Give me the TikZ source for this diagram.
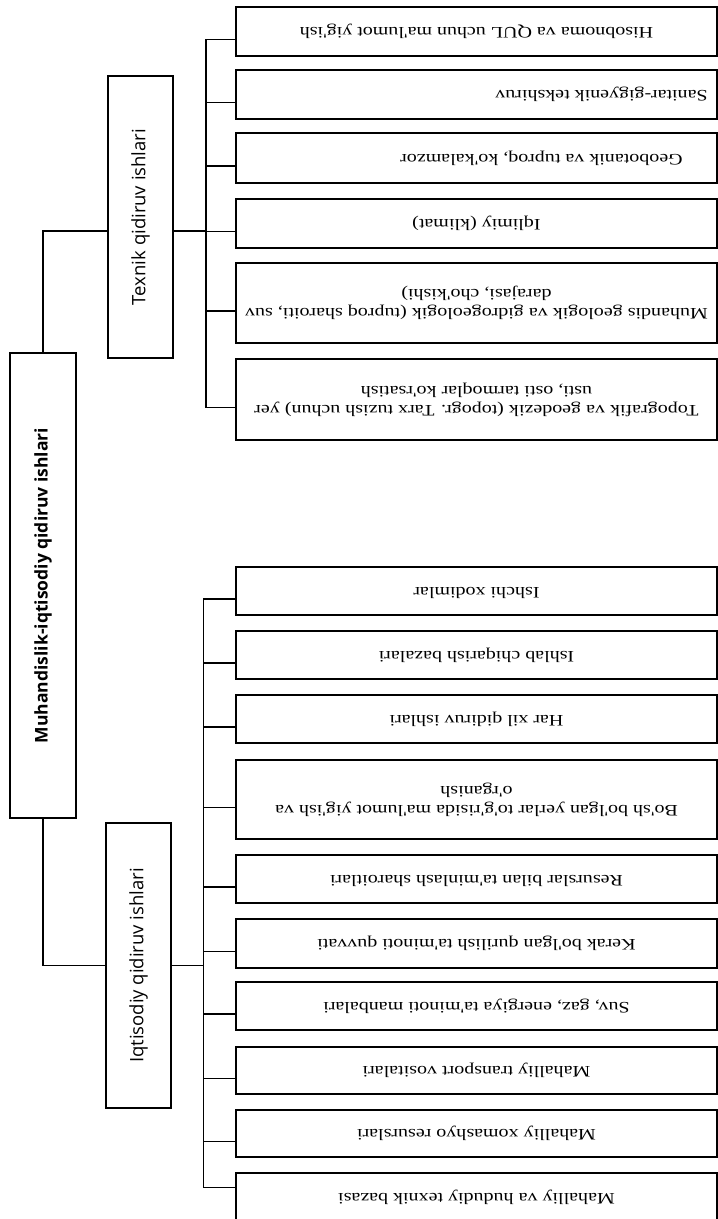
\documentclass[tikz,border=0pt]{standalone}
\usepackage{graphicx}
\usepackage{fontspec}
\setmainfont{Liberation Serif}
\newfontfamily\boxfont[FakeStretch=1.25]{Liberation Serif}
\newfontfamily\headfont{Open Sans}
\usepackage{tikz}
\newcommand{\flip}[2][0pt]{\hspace*{#1}\rotatebox[origin=c]{180}{\begin{tabular}{@{}c@{}}#2\end{tabular}}}
\newcommand{\upr}[1]{\rotatebox[origin=c]{90}{#1}}

\begin{document}
\begin{tikzpicture}[x=1pt,y=-1pt,
  box/.style={draw,line width=1.6pt,minimum width=481pt,minimum height=48pt,inner sep=2pt,font=\boxfont\fontsize{16}{19}\selectfont},
  tall/.style={box,minimum height=80pt},
  head/.style={draw,line width=1.6pt,minimum width=65pt,inner sep=0pt,font=\headfont\fontsize{18.5}{20}\selectfont},
  conn/.style={line width=1.2pt}]
\useasboundingbox (0,0) rectangle (718,1219);
% chap tomon
\node [head,minimum width=66pt,minimum height=465pt,font=\headfont\bfseries\fontsize{17.5}{20}\selectfont] (muh) at (43,585.5) {\upr{Muhandislik-iqtisodiy qidiruv ishlari}};
\node [head,minimum height=282pt] (tex) at (140.5,217) {\upr{Texnik qidiruv ishlari}};
\node [head,minimum height=285pt] (iqt) at (138.5,965.5) {\upr{Iqtisodiy qidiruv ishlari}};
% texnik
\node [box,minimum height=49pt] (t1) at (476.5,31.5) {\flip{Hisobnoma va QUL uchun ma'lumot yig'ish}};
\node [box,minimum height=49pt] (t2) at (476.5,94.5) {\flip[250pt]{Sanitar-gigyenik tekshiruv}};
\node [box,minimum height=50pt] (t3) at (476.5,158) {\flip[130pt]{Geobotanik va tuproq, ko'kalamzor}};
\node [box,minimum height=49pt] (t4) at (476.5,223.5) {\flip{Iqlimiy (klimat)}};
\node [tall] (t5) at (476.5,303) {\flip{Muhandis geologik va gidrogeologik (tuproq sharoiti, suv\\darajasi, cho'kishi)}};
\node [tall,minimum height=81pt] (t6) at (476.5,399.5) {\flip{Topografik va geodezik (topogr. Tarx tuzish uchun) yer\\usti, osti tarmoqlar ko'rsatish}};
% iqtisodiy
\node [box] (e1) at (476.5,591) {\flip{Ishchi xodimlar}};
\node [box] (e2) at (476.5,655) {\flip{Ishlab chiqarish bazalari}};
\node [box] (e3) at (476.5,719) {\flip{Har xil qidiruv ishlari}};
\node [tall,minimum height=79pt] (e4) at (476.5,799.5) {\flip{Bo'sh bo'lgan yerlar to'g'risida ma'lumot yig'ish va\\o'rganish}};
\node [box] (e5) at (476.5,879) {\flip{Resurslar bilan ta'minlash sharoitlari}};
\node [box,minimum height=49pt] (e6) at (476.5,943.5) {\flip{Kerak bo'lgan qurilish ta'minoti quvvati}};
\node [box] (e7) at (476.5,1006) {\flip{Suv, gaz, energiya ta'minoti manbalari}};
\node [box,minimum height=47pt] (e8) at (476.5,1070.5) {\flip{Mahalliy transport vositalari}};
\node [box,minimum height=47pt] (e9) at (476.5,1133.5) {\flip{Mahalliy xomashyo resurslari}};
\node [box,minimum height=49pt] (e10) at (476.5,1197.5) {\flip{Mahalliy va hududiy texnik bazasi}};
% ulanishlar
\draw [conn] (muh.north) |- ([yshift=-14pt]tex.west);
\draw [conn] (muh.south) |- (iqt.west);
\draw [conn] ([yshift=-14pt]tex.east) -- ++(33,0);
\draw [conn] (iqt.east) -- ++(32.5,0);
\coordinate (tbtop) at (206,39.5);
\coordinate (tbbot) at (206,407.5);
\draw [conn] (tbtop) -- (tbbot);
\foreach \b in {t1,t2,t3,t4,t5,t6}
  \draw [conn] ([yshift=-8pt]\b.west) -- ++(-30,0);
\coordinate (ebtop) at (203.5,599);
\coordinate (ebbot) at (203.5,1188);
\draw [conn] (ebtop) -- (ebbot);
\foreach \b in {e1,e2,e3,e4,e5,e6,e7,e8,e9}
  \draw [conn] ([yshift=-8pt]\b.west) -- ++(-32.5,0);
\draw [conn] ([yshift=-15pt]e10.north west) -- ++(-32.5,0);
\end{tikzpicture}
\end{document}
